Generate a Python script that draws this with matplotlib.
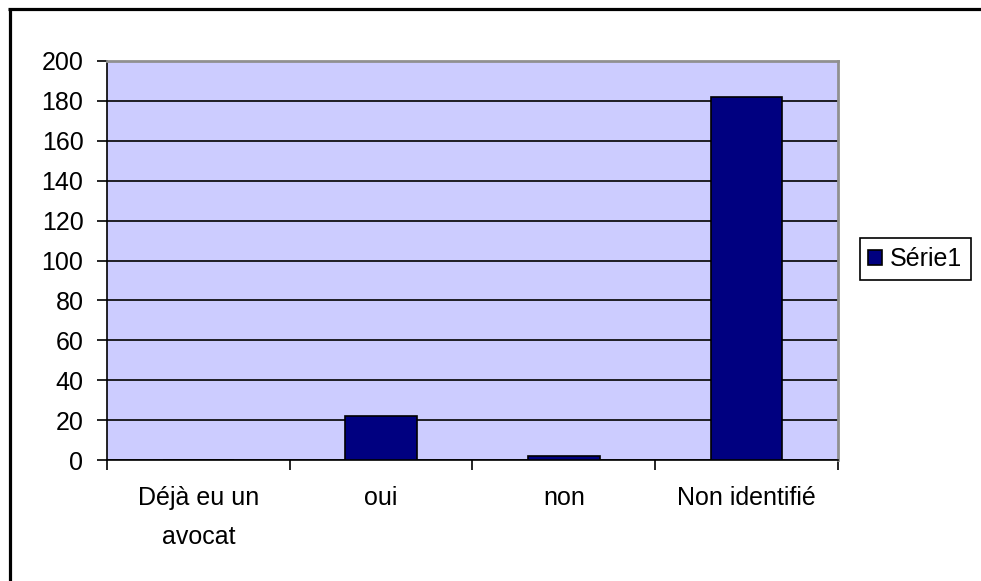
#!/usr/bin/env python3
"""Excel-style bar chart: Déjà eu un avocat / oui / non / Non identifié."""

import matplotlib

matplotlib.use("Agg")
import matplotlib.pyplot as plt  # noqa: E402
from matplotlib.lines import Line2D  # noqa: E402

CATEGORIES = ["Déjà eu un\navocat", "oui", "non", "Non identifié"]
VALUES = [0, 22, 2, 182]
SERIES_NAME = "Série1"
Y_TICKS = list(range(0, 201, 20))

W, H = 981, 581
BG = "#CCCCFF"
BAR = "#000080"

plt.rcParams["font.family"] = ["Liberation Sans", "DejaVu Sans"]
plt.rcParams["font.size"] = 18

fig = plt.figure(figsize=(W / 100, H / 100), dpi=100)
ax = fig.add_axes([107 / W, 121 / H, 731 / W, 399 / H])
ax.set_facecolor(BG)

x = list(range(len(CATEGORIES)))
ax.bar(x, VALUES, width=0.39, color=BAR, edgecolor="black", linewidth=1.2,
       label=SERIES_NAME, zorder=3)

ax.set_xlim(-0.5, len(CATEGORIES) - 0.5)
ax.set_ylim(0, 200)
ax.set_yticks(Y_TICKS)
ax.yaxis.grid(True, color="black", linewidth=1.2, zorder=1)
ax.set_axisbelow(True)

ax.set_xticks(x)
ax.set_xticklabels(CATEGORIES, linespacing=1.75)
ax.set_xticks([i - 0.5 for i in range(len(CATEGORIES) + 1)], minor=True)
ax.tick_params(axis="x", which="major", length=0, pad=19)
ax.tick_params(axis="x", which="minor", length=7, width=1.2, direction="out")
ax.tick_params(axis="y", length=7, width=1.2, direction="out", pad=10)

for side in ("left", "bottom"):
    ax.spines[side].set_color("black")
    ax.spines[side].set_linewidth(1.2)
for side in ("top", "right"):
    ax.spines[side].set_color("#909090")
    ax.spines[side].set_linewidth(2)

fig.legend(loc="center", bbox_to_anchor=(915 / W, 1 - 259 / H), frameon=True,
           fancybox=False, edgecolor="black", framealpha=1, handlelength=0.55,
           handleheight=0.55, handletextpad=0.3, borderpad=0.35,
           fontsize=18).get_frame().set_linewidth(1.2)

# outer chart border (top and left visible)
fig.add_artist(Line2D([8 / W, 1], [1 - 8.5 / H, 1 - 8.5 / H], color="black",
                      linewidth=2.3, solid_capstyle="butt",
                      transform=fig.transFigure))
fig.add_artist(Line2D([9.5 / W, 9.5 / W], [0, 1 - 8.5 / H], color="black",
                      linewidth=2.3, solid_capstyle="butt",
                      transform=fig.transFigure))

fig.savefig("out.png", dpi=100)
